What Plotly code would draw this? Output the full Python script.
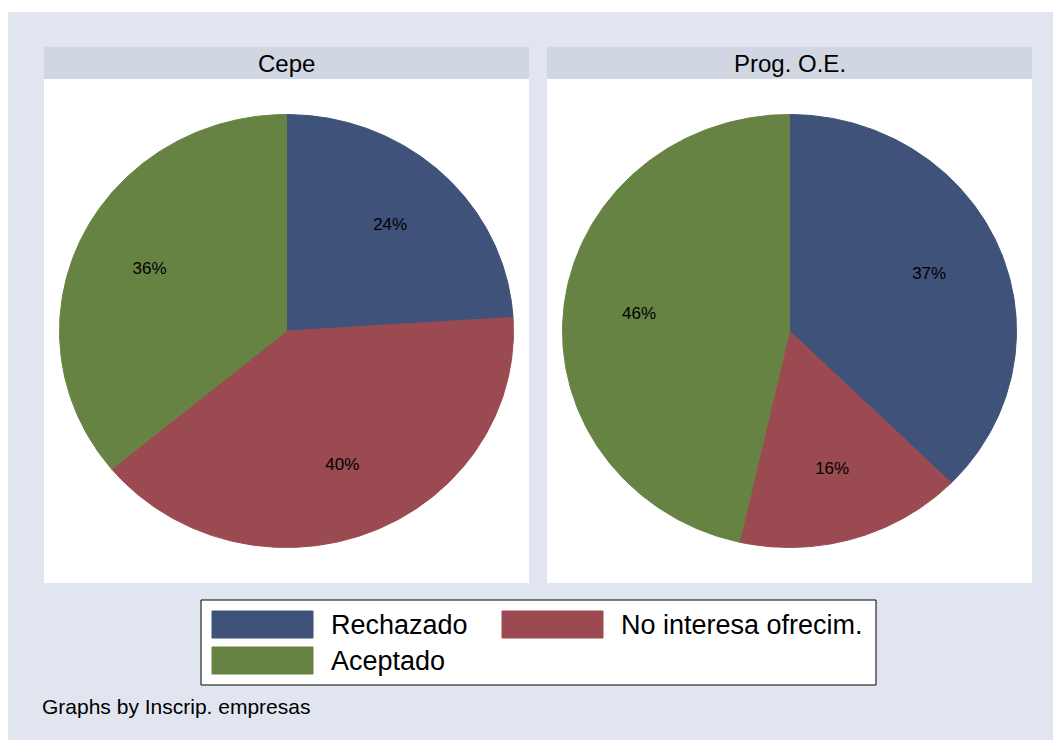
import numpy as np
import plotly.graph_objects as go

# ---- data -------------------------------------------------------------
panels = ["Cepe", "Prog. O.E."]
categories = ["Rechazado", "No interesa ofrecim.", "Aceptado"]
cepe_pct = [24, 40, 36]
prog_pct = [37, 16, 46]
panel_values = [cepe_pct, prog_pct]

# ---- styling ----------------------------------------------------------
colors = ["#3E527A", "#9A4A50", "#678343"]
bg_color = "#E0E5F0"
strip_color = "#D1D7E2"
font_family = "Liberation Sans, Arial, sans-serif"

W, H = 1053, 740


def px(x):
    return x / W


def py(y):
    return 1 - y / H


# panel geometry (pixels)
panel_x = [(44, 529), (547, 1032)]
strip_top, plot_top, plot_bottom = 47, 79, 583
pie_w, pie_h = 454, 433          # pie diameter in pixels (horizontal, vertical)
label_r = 0.667                  # label distance as a fraction of the radius

fig = go.Figure()
shapes = []
annotations = []

# outer background
shapes.append(dict(type="rect", xref="paper", yref="paper",
                   x0=px(8), x1=1, y0=0, y1=py(12),
                   fillcolor=bg_color, line=dict(width=0), layer="below"))

for i, (title, vals) in enumerate(zip(panels, panel_values)):
    x0, x1 = panel_x[i]
    # white plot area and title strip
    shapes.append(dict(type="rect", xref="paper", yref="paper",
                       x0=px(x0), x1=px(x1), y0=py(plot_bottom), y1=py(plot_top),
                       fillcolor="white", line=dict(width=0), layer="below"))
    shapes.append(dict(type="rect", xref="paper", yref="paper",
                       x0=px(x0), x1=px(x1), y0=py(plot_top), y1=py(strip_top),
                       fillcolor=strip_color, line=dict(width=0), layer="below"))
    annotations.append(dict(text=title, xref="paper", yref="paper",
                            x=px((x0 + x1) / 2), y=py((strip_top + plot_top) / 2),
                            xanchor="center", yanchor="middle", showarrow=False,
                            font=dict(size=24, color="black", family=font_family)))

    sfx = "" if i == 0 else str(i + 1)
    v = np.array(vals, dtype=float)
    shares = v / v.sum()
    edges = np.concatenate([[0], np.cumsum(shares)]) * 2 * np.pi

    # slices drawn clockwise from 12 o'clock
    for k, cat in enumerate(categories):
        t = np.linspace(edges[k], edges[k + 1], 240)
        xs = np.concatenate([[0], np.sin(t), [0]])
        ys = np.concatenate([[0], np.cos(t), [0]])
        fig.add_trace(go.Scatter(
            x=xs, y=ys, mode="lines", fill="toself",
            fillcolor=colors[k], line=dict(color=colors[k], width=1),
            hoverinfo="skip", showlegend=False, name=cat,
            xaxis="x" + sfx, yaxis="y" + sfx))

    mids = (edges[:-1] + edges[1:]) / 2
    fig.add_trace(go.Scatter(
        x=label_r * np.sin(mids), y=label_r * np.cos(mids),
        mode="text", text=[f"{val}%" for val in vals],
        textposition="middle center",
        textfont=dict(size=17, color="black", family=font_family),
        hoverinfo="skip", showlegend=False,
        xaxis="x" + sfx, yaxis="y" + sfx))

    xr = (x1 - x0) / pie_w
    yr = (plot_bottom - plot_top) / pie_h
    axis_common = dict(visible=False, fixedrange=True)
    fig.update_layout({
        "xaxis" + sfx: dict(domain=[px(x0), px(x1)], range=[-xr, xr],
                            anchor="y" + sfx, **axis_common),
        "yaxis" + sfx: dict(domain=[py(plot_bottom), py(plot_top)], range=[-yr, yr],
                            anchor="x" + sfx, **axis_common),
    })

# ---- legend box -------------------------------------------------------
shapes.append(dict(type="rect", xref="paper", yref="paper",
                   x0=px(201), x1=px(876), y0=py(685), y1=py(600),
                   fillcolor="white", line=dict(color="black", width=1), layer="below"))
legend_slots = [(212, 611), (502, 611), (212, 647)]
sw_w, sw_h, text_gap = 101, 27, 16
for k, cat in enumerate(categories):
    lx, ly = legend_slots[k]
    shapes.append(dict(type="rect", xref="paper", yref="paper",
                       x0=px(lx), x1=px(lx + sw_w), y0=py(ly + sw_h), y1=py(ly),
                       fillcolor=colors[k], line=dict(color=colors[k], width=1),
                       layer="below"))
    annotations.append(dict(text=cat, xref="paper", yref="paper",
                            x=px(lx + sw_w + text_gap), y=py(ly + sw_h / 2),
                            xanchor="left", yanchor="middle", showarrow=False,
                            font=dict(size=27, color="black", family=font_family)))

# footnote
annotations.append(dict(text="Graphs by Inscrip. empresas", xref="paper", yref="paper",
                        x=px(40), y=py(706), xanchor="left", yanchor="middle",
                        showarrow=False,
                        font=dict(size=21, color="black", family=font_family)))

fig.update_layout(
    width=W, height=H,
    margin=dict(l=0, r=0, t=0, b=0),
    paper_bgcolor="white",
    plot_bgcolor="rgba(0,0,0,0)",
    shapes=shapes,
    annotations=annotations,
    showlegend=False,
)

fig.write_html("out.html")
